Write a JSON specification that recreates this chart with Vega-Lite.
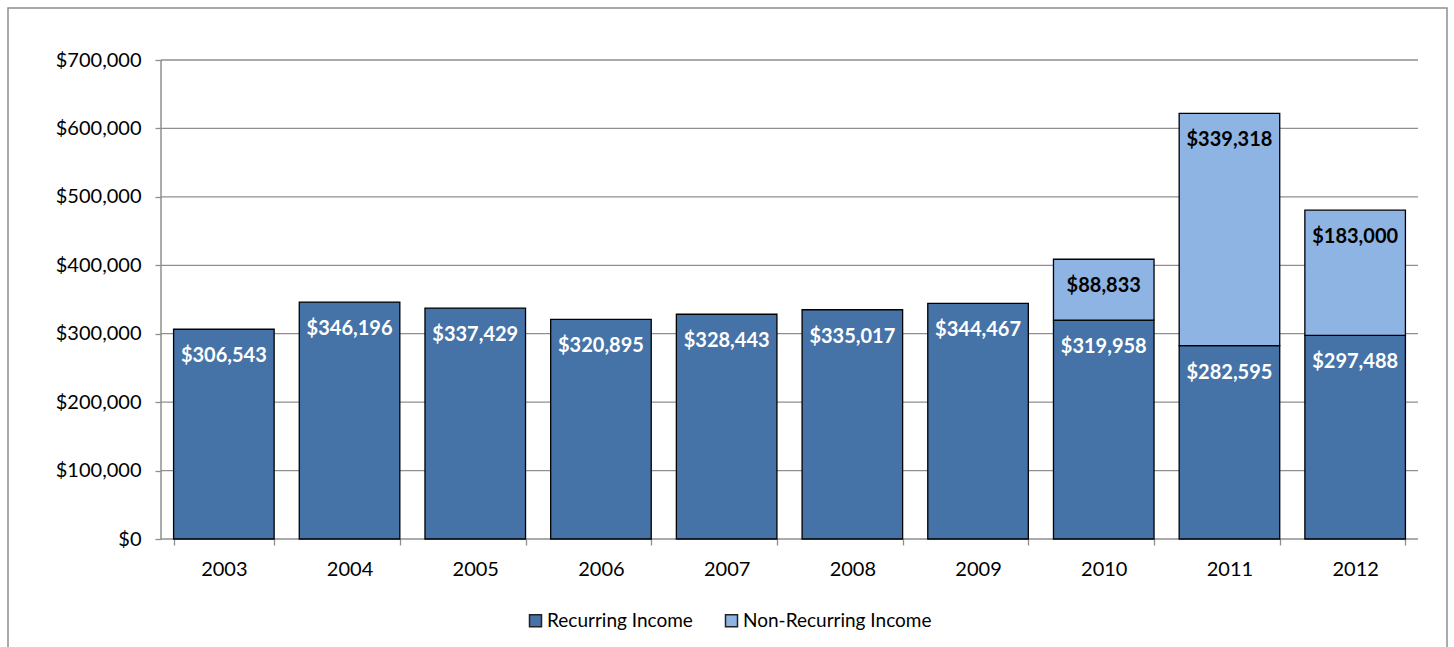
{
  "$schema": "https://vega.github.io/schema/vega-lite/v6.json",
  "width": 1439,
  "height": 645,
  "autosize": "none",
  "padding": {"left": 8, "top": 8, "right": 7, "bottom": 0},
  "background": "white",
  "config": {
    "view": {"stroke": "#8f8f8f", "strokeWidth": 1.5},
    "font": "Lato",
    "axisX": {
      "orient": "bottom", "offset": -114, "domain": false, "grid": false,
      "tickBand": "extent", "tickSize": 6, "tickColor": "#8f8f8f", "tickWidth": 1.3,
      "labelFont": "Lato", "labelColor": "#000000", "labelFontSize": 20, "labelPadding": 14, "labelAngle": 0
    },
    "axisY": {
      "offset": -153, "domain": false, "grid": false,
      "tickSize": 6, "tickColor": "#8f8f8f", "tickWidth": 1.3,
      "labelFont": "Lato", "labelColor": "#000000", "labelFontSize": 20, "labelPadding": 14
    },
    "legend": {"labelFont": "Lato"}
  },
  "datasets": {
    "income": [
      {"year": "2003", "type": "Recurring Income", "value": 306543},
      {"year": "2004", "type": "Recurring Income", "value": 346196},
      {"year": "2005", "type": "Recurring Income", "value": 337429},
      {"year": "2006", "type": "Recurring Income", "value": 320895},
      {"year": "2007", "type": "Recurring Income", "value": 328443},
      {"year": "2008", "type": "Recurring Income", "value": 335017},
      {"year": "2009", "type": "Recurring Income", "value": 344467},
      {"year": "2010", "type": "Recurring Income", "value": 319958},
      {"year": "2011", "type": "Recurring Income", "value": 282595},
      {"year": "2012", "type": "Recurring Income", "value": 297488},
      {"year": "2010", "type": "Non-Recurring Income", "value": 88833},
      {"year": "2011", "type": "Non-Recurring Income", "value": 339318},
      {"year": "2012", "type": "Non-Recurring Income", "value": 183000}
    ],
    "grid": [
      {"v": 0}, {"v": 100000}, {"v": 200000}, {"v": 300000},
      {"v": 400000}, {"v": 500000}, {"v": 600000}, {"v": 700000}
    ],
    "yaxis": [{"lo": 0, "hi": 700000}]
  },
  "layer": [
    {
      "data": {"name": "grid"},
      "mark": {"type": "rule", "color": "#8f8f8f", "strokeWidth": 1.3},
      "encoding": {
        "x": {"datum": "2003", "type": "nominal", "bandPosition": -0.125, "axis": {"title": null},
              "scale": {"type": "band", "domain": ["2003","2004","2005","2006","2007","2008","2009","2010","2011","2012"],
                        "paddingInner": 0.2, "paddingOuter": 0.824, "align": 0.7993}},
        "x2": {"datum": "2012", "bandPosition": 1.125},
        "y": {"field": "v", "type": "quantitative",
              "axis": {"title": null, "values": [0, 100000, 200000, 300000, 400000, 500000, 600000, 700000], "format": "$,.0f"},
              "scale": {"domain": [-166597, 775992], "zero": false, "nice": false}}
      }
    },
    {
      "data": {"name": "yaxis"},
      "mark": {"type": "rule", "color": "#8f8f8f", "strokeWidth": 1.5},
      "encoding": {
        "x": {"datum": "2003", "type": "nominal", "bandPosition": -0.125, "axis": {"title": null}},
        "y": {"field": "lo", "type": "quantitative",
              "axis": {"title": null, "values": [0, 100000, 200000, 300000, 400000, 500000, 600000, 700000], "format": "$,.0f"}},
        "y2": {"field": "hi"}
      }
    },
    {
      "data": {"name": "income"},
      "mark": {"type": "bar", "stroke": "#000000", "strokeWidth": 1.3},
      "encoding": {
        "x": {"field": "year", "type": "nominal", "axis": {"title": null}},
        "y": {
          "field": "value", "type": "quantitative", "stack": "zero",
          "axis": {"title": null, "values": [0, 100000, 200000, 300000, 400000, 500000, 600000, 700000], "format": "$,.0f"}
        },
        "color": {
          "field": "type", "type": "nominal",
          "scale": {"domain": ["Recurring Income", "Non-Recurring Income"], "range": ["#4673a7", "#8eb4e3"]},
          "legend": {
            "title": null, "orient": "none", "direction": "horizontal",
            "legendX": 518, "legendY": 603,
            "symbolType": "square", "symbolSize": 144, "symbolStrokeColor": "#222222",
            "symbolStrokeWidth": 1.5, "labelFontSize": 19, "labelOffset": 2, "labelLimit": 400,
            "columnPadding": 29, "labelColor": "#000000"
          }
        },
        "order": {"field": "type", "sort": "descending"}
      }
    },
    {
      "data": {"name": "income"},
      "mark": {"type": "text", "fontWeight": "bold", "fontSize": 20, "baseline": "middle", "dy": 27, "font": "Lato"},
      "encoding": {
        "x": {"field": "year", "type": "nominal", "axis": {"title": null}},
        "y": {"field": "value", "type": "quantitative", "stack": "zero",
              "axis": {"title": null, "values": [0, 100000, 200000, 300000, 400000, 500000, 600000, 700000], "format": "$,.0f"}},
        "detail": {"field": "type"},
        "order": {"field": "type", "sort": "descending"},
        "text": {"field": "value", "type": "quantitative", "format": "$,.0f"},
        "color": {"condition": {"test": "datum.type === 'Recurring Income'", "value": "#ffffff"}, "value": "#000000"}
      }
    }
  ]
}
